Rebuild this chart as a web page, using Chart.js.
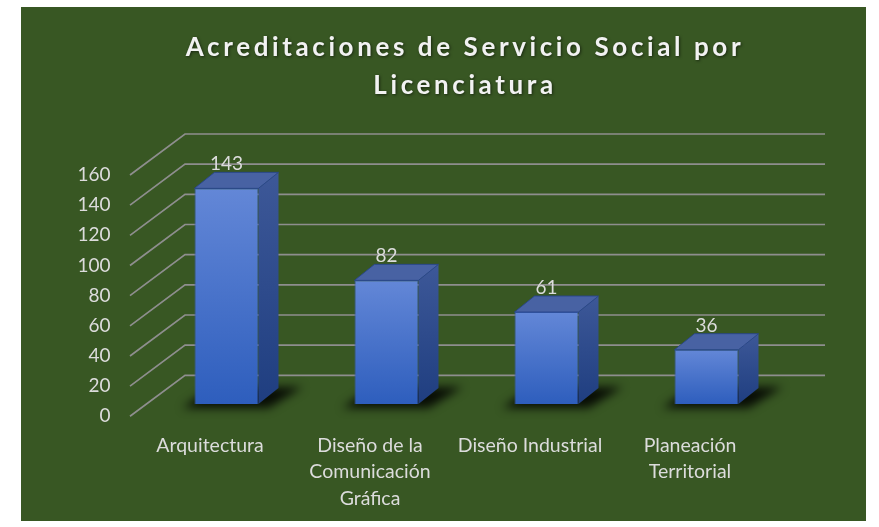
<!DOCTYPE html>
<html><head><meta charset="utf-8">
<script src="https://cdn.jsdelivr.net/npm/chart.js@4/dist/chart.umd.min.js"></script>
<style>
html,body{margin:0;padding:0;background:#ffffff;}
#wrap{position:absolute;left:21px;top:7px;width:845px;height:514px;background:#385723;}
canvas{display:block;}
</style></head><body>
<div id="wrap"><canvas id="c" width="845" height="514"></canvas></div>
<script>
const titleLines = ["Acreditaciones de Servicio Social por", "Licenciatura"];
const categories = ["Arquitectura", ["Diseño de la", "Comunicación", "Gráfica"], "Diseño Industrial", ["Planeación", "Territorial"]];
const values = [143, 82, 61, 36];
const yTickValues = [0, 20, 40, 60, 80, 100, 120, 140, 160];

// perspective offsets (pixels) of the wall planes relative to the bar plane
const WALL = {fx: -16.5, fy: 12.3, bx: 38.5, by: -28.7};
const DEPTH = {x: 20, y: -16};
const TEXT = '#dcdcdc';

function vGrad(ctx, y0, y1, c0, c1) {
  const g = ctx.createLinearGradient(0, y0, 0, y1);
  g.addColorStop(0, c0); g.addColorStop(1, c1);
  return g;
}

const threeD = {
  id: 'threeD',
  beforeDraw(chart) {
    const ctx = chart.ctx;
    ctx.save();
    ctx.font = 'bold 26px Lato';
    ctx.letterSpacing = '3.6px';
    ctx.textAlign = 'center';
    ctx.textBaseline = 'middle';
    ctx.fillStyle = '#f2f2f2';
    ctx.shadowColor = 'rgba(0,0,0,0.55)';
    ctx.shadowBlur = 3; ctx.shadowOffsetX = 1; ctx.shadowOffsetY = 1;
    ctx.fillText(titleLines[0], 444, 41);
    ctx.fillText(titleLines[1], 444, 79);
    ctx.restore();
  },
  beforeDatasetsDraw(chart) {
    const {ctx, chartArea: a, scales: {y}} = chart;
    ctx.save();
    ctx.strokeStyle = '#8e8e8e';
    ctx.lineWidth = 1.7;
    y.ticks.forEach(t => {
      const py = y.getPixelForValue(t.value);
      ctx.beginPath();
      ctx.moveTo(a.left + WALL.fx, py + WALL.fy);
      ctx.lineTo(a.left + WALL.bx, py + WALL.by);
      ctx.lineTo(a.right + WALL.bx, py + WALL.by);
      ctx.stroke();
    });
    const meta = chart.getDatasetMeta(0);
    meta.data.forEach(bar => {
      const p = bar.getProps(['x', 'y', 'base', 'width'], true);
      const l = p.x - p.width / 2, r = p.x + p.width / 2, b = p.base;
      ctx.save();
      ctx.filter = 'blur(5px)';
      ctx.fillStyle = 'rgba(0,0,0,0.85)';
      ctx.beginPath();
      ctx.moveTo(l - 12, b + 4);
      ctx.lineTo(r + 10, b + 4);
      ctx.lineTo(r + DEPTH.x + 24, b + DEPTH.y - 1);
      ctx.lineTo(l + DEPTH.x - 2, b + DEPTH.y - 1);
      ctx.closePath();
      ctx.fill();
      ctx.restore();
    });
    ctx.restore();
  },
  afterDatasetsDraw(chart) {
    const {ctx} = chart;
    const meta = chart.getDatasetMeta(0);
    ctx.save();
    meta.data.forEach((bar, i) => {
      const p = bar.getProps(['x', 'y', 'base', 'width'], true);
      const l = p.x - p.width / 2, r = p.x + p.width / 2, t = p.y, b = p.base;
      // side face
      ctx.fillStyle = vGrad(ctx, t + DEPTH.y, b, '#3d5898', '#1f3e80');
      ctx.beginPath();
      ctx.moveTo(r, t); ctx.lineTo(r + DEPTH.x, t + DEPTH.y);
      ctx.lineTo(r + DEPTH.x, b + DEPTH.y); ctx.lineTo(r, b);
      ctx.closePath(); ctx.fill();
      // top face
      ctx.fillStyle = '#4862a3';
      ctx.beginPath();
      ctx.moveTo(l, t); ctx.lineTo(l + DEPTH.x, t + DEPTH.y);
      ctx.lineTo(r + DEPTH.x, t + DEPTH.y); ctx.lineTo(r, t);
      ctx.closePath(); ctx.fill();
      ctx.strokeStyle = 'rgba(40,70,140,0.9)';
      ctx.lineWidth = 1;
      ctx.stroke();
      // data label
      ctx.font = '19px Lato';
      ctx.fillStyle = TEXT;
      ctx.textAlign = 'center';
      ctx.textBaseline = 'middle';
      ctx.fillText(String(values[i]), p.x, t + DEPTH.y - 8);
    });
    ctx.restore();
  }
};

new Chart(document.getElementById('c'), {
  type: 'bar',
  data: {
    labels: categories,
    datasets: [{
      data: values,
      backgroundColor(context) {
        const chart = context.chart;
        const ys = chart.scales && chart.scales.y;
        if (!chart.chartArea || !ys || context.parsed === undefined) return '#4472c4';
        const top = ys.getPixelForValue(context.parsed.y);
        const bot = ys.getPixelForValue(0);
        return vGrad(chart.ctx, top, bot, '#6387d7', '#2e5ebd');
      },
      borderColor: '#3559a8',
      borderWidth: 1,
      barPercentage: 0.4,
      categoryPercentage: 1.0
    }]
  },
  options: {
    responsive: false,
    animation: false,
    layout: {padding: {top: 155.7, left: 25.5, right: 79.5, bottom: 0}},
    plugins: {legend: {display: false}, title: {display: false}, tooltip: {enabled: false}},
    scales: {
      x: {
        grid: {display: false, drawTicks: false},
        border: {display: false},
        ticks: {color: TEXT, font: {family: 'Lato', size: 19.5, lineHeight: 1.34}, padding: 29, labelOffset: -16.5, maxRotation: 0, autoSkip: false},
        afterFit(s) { s.height = 117; }
      },
      y: {
        min: 0, max: 160,
        grid: {display: false, drawTicks: false},
        border: {display: false},
        afterBuildTicks(s) { s.ticks = yTickValues.map(v => ({value: v})); },
        ticks: {color: TEXT, font: {family: 'Lato', size: 19}, padding: 36, labelOffset: 12.3},
        afterFit(s) { s.width = 100; }
      }
    }
  },
  plugins: [threeD]
});
</script>
</body></html>
